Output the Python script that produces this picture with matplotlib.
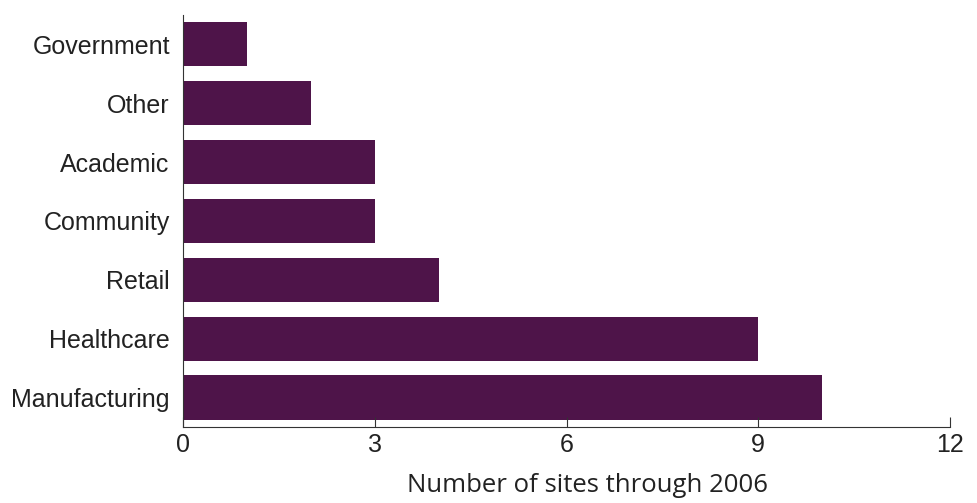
import matplotlib.pyplot as plt

categories = ["Manufacturing", "Healthcare", "Retail", "Community", "Academic", "Other", "Government"]
sites = [10, 9, 4, 3, 3, 2, 1]
xticks = [0, 3, 6, 9, 12]

fig = plt.figure(figsize=(9.77, 5.03), dpi=100)
ax = fig.add_axes([0.1873, 0.1511, 0.7851, 0.8191])

ax.barh(categories, sites, height=0.75, color="#4e1449")

ax.set_xlim(0, 12)
ax.set_ylim(-0.5, 6.5)
ax.set_xticks(xticks)
ax.set_xticklabels([str(t) for t in xticks], fontsize=18, family="Liberation Sans", color="#222222")
ax.set_yticklabels(categories, fontsize=18, family="Liberation Sans", color="#222222")

ax.spines["top"].set_visible(False)
ax.spines["right"].set_visible(False)
ax.spines["left"].set_color("#333333")
ax.spines["bottom"].set_color("#333333")
ax.tick_params(axis="x", direction="in", length=7, pad=4, color="#333333")
ax.tick_params(axis="y", length=0, pad=9.5)

ax.set_xlabel("Number of sites through 2006", fontsize=18.5, family="Open Sans",
              color="#222222", va="center")
ax.xaxis.set_label_coords(0.527, -59 / 412)

fig.savefig("out.png", dpi=100)
